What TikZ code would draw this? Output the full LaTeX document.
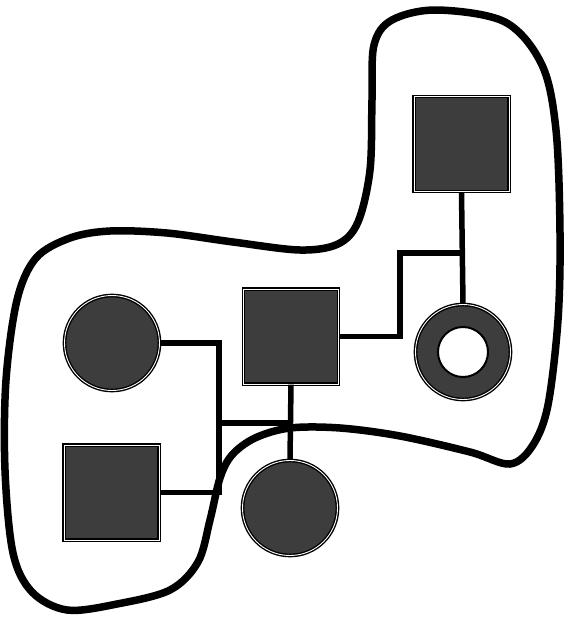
\documentclass[tikz,border=0pt]{standalone}
\usepackage{tikz}
\usetikzlibrary{positioning, calc}

\begin{document}
\begin{tikzpicture}[
            x=1pt, y=-1pt,
            male/.style={draw=black, double=white, double distance=0.9pt, line width=1.4pt, fill=black!76, rectangle, minimum size=95pt, inner sep=0pt},
            female/.style={draw=black, double=white, double distance=0.9pt, line width=1.4pt, fill=black!76, circle, minimum size=95pt, inner sep=0pt},
            hole/.style={draw=black, line width=2pt, fill=white, circle, minimum size=50pt, inner sep=0pt},
            link/.style={line width=5.5pt},
            family/.style={line width=7.5pt, line join=round},
        ]
        \useasboundingbox (0,0) rectangle (573,619);

        % Draw the outline round the family
        \draw[family] plot[smooth cycle, tension=0.55] coordinates {
            (372,100) (374,45) (392,20) (437,10) (505,22) (542,65)
            (556,130) (560,233) (558,320) (548,405) (533,445) (510,464)
            (470,452) (400,436) (340,428) (290,428) (255,438) (232,455)
            (220,478) (210,520) (198,562) (170,590) (117,604) (67,610)
            (32,592) (13,553) (5,470) (6,380) (17,300) (36,258) (70,238)
            (110,231) (167,233) (233,242) (300,250) (338,244) (358,222) (370,170)
        };

        % Draw the first generation
        \node[male] (I-1) at (461.5,144) {};
        \node[female] (I-2) at (463,352) {};
        \node[hole] (I-2-in) at (I-2) {};

        % Draw the second generation
        \node[male] (II-1) at (291,336.5) {};
        \node[female] (II-2) at (112,343) {};
        \node[male] (II-3) at (111.5,492.5) {};

        % Draw the third generation
        \node[female] (III-1) at (290,508) {};

        % Connect the parents and their children
        \coordinate (K-1) at (400,253);
        \coordinate (K-2) at (219,423);
        \draw[link] (I-1.south) -- (I-2.north);
        \draw[link] (II-1.east) -| (K-1) -- (K-1 -| I-1.south);
        \draw[link] (II-2.east) -| (K-2);
        \draw[link] (II-3.east) -| (K-2);
        \draw[link] (K-2) -- (K-2 -| II-1.south);
        \draw[link] (II-1.south) -- (III-1.north);
    \end{tikzpicture}
\end{document}
